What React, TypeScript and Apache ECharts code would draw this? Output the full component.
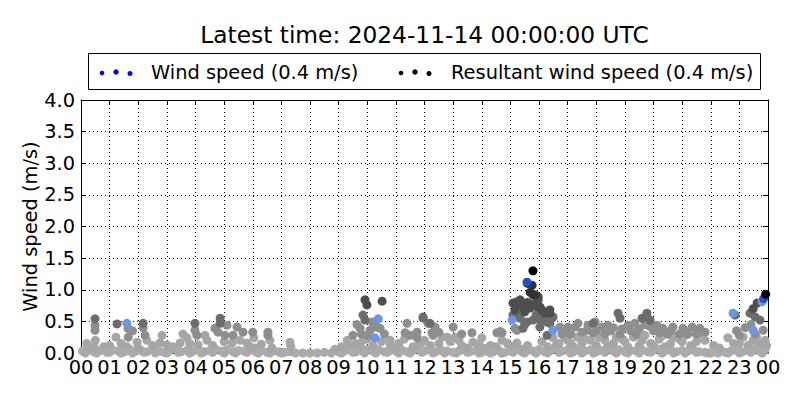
import React, { useEffect, useRef } from "react";
import * as echarts from "echarts";

const titleText = "Latest time: 2024-11-14 00:00:00 UTC";
const legendWind = "Wind speed (0.4 m/s)";
const legendResultant = "Resultant wind speed (0.4 m/s)";
const yAxisName = "Wind speed (m/s)";
const hourLabels = ["00","01","02","03","04","05","06","07","08","09","10","11","12","13","14","15","16","17","18","19","20","21","22","23","00"];

// near-zero band (hour, m/s)
const bandLow = [
  [0.05,0.03],[0.25,0.05],[0.45,0.02],[0.68,0.04],[0.9,0.01],[1.1,0.05],[1.3,0.03],[1.52,0.02],[1.7,0.06],[1.92,0.03],
  [2.1,0.04],[2.3,0.02],[2.5,0.05],[2.72,0.03],[2.9,0.01],[3.1,0.04],[3.3,0.06],[3.5,0.02],[3.7,0.04],[3.92,0.03],
  [4.1,0.05],[4.3,0.02],[4.5,0.04],[4.7,0.06],[4.9,0.03],[5.1,0.05],[5.32,0.02],[5.5,0.04],[5.7,0.03],[5.9,0.05],
  [6.1,0.02],[6.3,0.04],[6.5,0.01],[6.7,0.03],[6.9,0.02],[7.1,0.01],[7.3,0.02],[7.5,0],[7.75,0],[8.0,0],[8.25,0],
  [8.5,0.01],[8.75,0],[9.0,0.02],[9.2,0.03],[9.4,0.05],[9.6,0.02],[9.8,0.04],[10.0,0.06],[10.2,0.03],[10.4,0.05],
  [10.6,0.02],[10.8,0.04],[11.0,0.03],[11.2,0.05],[11.4,0.02],[11.6,0.04],[11.8,0.06],[12.0,0.03],[12.2,0.05],
  [12.4,0.02],[12.6,0.04],[12.8,0.03],[13.0,0.01],[13.2,0.03],[13.4,0.05],[13.6,0.02],[13.8,0.04],[14.0,0.01],
  [14.2,0.03],[14.4,0.02],[14.6,0.04],[14.8,0.01],[15.0,0.03],[15.2,0.05],[15.4,0.02],[15.6,0.04],[15.8,0.03],
  [16.0,0.05],[16.2,0.02],[16.4,0.04],[16.6,0.06],[16.8,0.03],[17.0,0.05],[17.2,0.02],[17.4,0.04],[17.6,0.03],
  [17.8,0.05],[18.0,0.02],[18.2,0.04],[18.4,0.06],[18.6,0.03],[18.8,0.05],[19.0,0.02],[19.2,0.04],[19.4,0.03],
  [19.6,0.05],[19.8,0.02],[20.0,0.04],[20.2,0.06],[20.4,0.03],[20.6,0.05],[20.8,0.02],[21.0,0.04],[21.2,0.03],
  [21.4,0.05],[21.6,0.02],[21.8,0.01],[22.0,0],[22.25,0],[22.5,0.01],[22.7,0.03],[22.9,0.05],[23.1,0.02],
  [23.3,0.04],[23.5,0.06],[23.7,0.03],[23.9,0.05],
  [0.15,0.0],[0.55,0.0],[1.0,0.01],[1.4,0.0],[1.8,0.0],[2.2,0.01],[2.6,0.0],[3.0,0.0],[3.4,0.01],[3.8,0.0],
  [4.2,0.0],[4.6,0.01],[5.0,0.0],[5.4,0.0],[5.8,0.01],[6.2,0.0],[6.6,0.0],[7.0,0.0],[9.1,0.0],[9.5,0.01],
  [9.9,0.0],[10.3,0.0],[10.7,0.01],[11.1,0.0],[11.5,0.0],[11.9,0.01],[12.3,0.0],[12.7,0.0],[13.1,0.0],[13.5,0.01],
  [13.9,0.0],[14.3,0.0],[14.7,0.0],[15.1,0.01],[15.5,0.0],[15.9,0.0],[16.3,0.0],[16.7,0.01],[17.1,0.0],[17.5,0.0],
  [17.9,0.0],[18.3,0.01],[18.7,0.0],[19.1,0.0],[19.5,0.0],[19.9,0.01],[20.3,0.0],[20.7,0.0],[21.1,0.0],[21.5,0.01],
  [21.9,0.0],[22.6,0.0],[23.0,0.0],[23.4,0.01],[23.8,0.0]
];

const grayLight = [
  [0.5,0.2],[0.45,0.1],[1.22,0.25],[1.6,0.1],[1.96,0.17],[2.3,0.2],[2.76,0.16],[3.0,0.13],[3.46,0.16],[3.7,0.24],
  [4.09,0.13],[4.4,0.2],[5.28,0.16],[5.55,0.2],[5.8,0.16],[6.04,0.24],[6.08,0.08],[6.6,0.2],[6.67,0.08],[7.3,0.17],
  [7.33,0.1],[8.87,0.06],[9.1,0.1],[9.4,0.13],[9.75,0.1],[9.85,0.2],[10.8,0.2],[10.8,0.13],[10.95,0.08],[11.6,0.1],
  [11.84,0.16],[11.91,0.17],[12.2,0.12],[12.61,0.25],[12.79,0.25],[13.07,0.25],[13.3,0.12],[13.49,0.08],[13.69,0.17],
  [14.0,0.24],[14.04,0.08],[14.3,0.12],[14.71,0.2],[15.23,0.16],[15.41,0.06],[15.6,0.12],[16.49,0.24],[16.3,0.1],
  [16.7,0.15],[17.0,0.2],[17.33,0.25],[17.2,0.1],[17.5,0.15],[17.8,0.2],[18.0,0.12],[18.3,0.2],[18.6,0.15],[18.9,0.22],
  [19.1,0.1],[19.3,0.25],[19.6,0.2],[19.9,0.15],[20.2,0.22],[20.4,0.1],[20.7,0.25],[21.0,0.18],[21.3,0.12],[21.62,0.25],
  [21.8,0.2],[22.1,0.12],[22.6,0.24],[22.8,0.15],[23.13,0.25],[23.3,0.12],[23.48,0.2],[23.7,0.15],[23.9,0.2],
  [2.83,0.28],[4.33,0.28],[3.56,0.3],[1.0,0.12],[0.2,0.15],
  [0.3,0.08],[0.8,0.1],[1.4,0.15],[2.0,0.08],[2.5,0.12],[3.2,0.1],[3.8,0.15],[4.6,0.12],[5.0,0.18],[5.9,0.1],
  [6.3,0.14],[9.3,0.2],[9.6,0.15],[10.0,0.22],[10.2,0.12],[10.5,0.18],[11.1,0.15],[11.3,0.22],[12.0,0.2],[12.5,0.15],
  [12.9,0.18],[13.2,0.2],[13.9,0.14],[14.5,0.1],[14.9,0.15],[15.1,0.1],[16.1,0.18],[16.6,0.12],[16.9,0.25],[17.1,0.15],
  [17.6,0.22],[18.1,0.25],[18.4,0.1],[18.7,0.25],[19.0,0.18],[19.5,0.12],[19.7,0.28],[20.0,0.12],[20.3,0.27],[20.6,0.15],
  [20.9,0.22],[21.1,0.28],[21.5,0.18],[22.3,0.08],[23.0,0.15],[23.6,0.25],[23.95,0.12]
];

const grayMid = [
  [0.49,0.44],[0.49,0.36],[1.64,0.39],[1.8,0.35],[1.65,0.25],[2.24,0.28],[2.17,0.4],[3.98,0.36],[4.05,0.28],[4.68,0.39],
  [4.79,0.33],[5.03,0.28],[5.1,0.44],[5.31,0.28],[5.45,0.41],[5.66,0.33],[6.0,0.33],[6.53,0.33],[6.53,0.28],[9.5,0.28],
  [9.64,0.45],[9.75,0.39],[10.1,0.36],[10.17,0.49],[10.34,0.41],[10.45,0.39],[11.32,0.32],[11.39,0.47],[11.74,0.33],
  [11.74,0.24],[12.26,0.32],[12.3,0.28],[12.37,0.41],[12.12,0.47],[13.0,0.41],[13.66,0.32],[14.53,0.32],[14.71,0.32],
  [14.64,0.34],[15.16,0.39],[15.23,0.36],[16.73,0.41],[16.98,0.33],[17.01,0.41],[17.26,0.41],[17.36,0.47],[17.68,0.36],
  [17.71,0.44],[17.89,0.32],[17.96,0.49],[18.2,0.41],[18.41,0.44],[18.5,0.35],[18.83,0.3],[19.11,0.44],[19.35,0.47],
  [19.2,0.35],[19.5,0.38],[19.88,0.42],[20.12,0.44],[20.33,0.39],[20.5,0.3],[20.68,0.41],[21.03,0.39],[21.2,0.3],
  [21.35,0.41],[21.62,0.39],[21.8,0.33],[22.9,0.35],[23.0,0.28],[23.55,0.3],[23.83,0.36],
  [9.8,0.3],[10.0,0.28],[10.6,0.3],[11.5,0.28],[12.5,0.33],[13.3,0.3],[16.8,0.3],[17.1,0.3],[17.5,0.33],[18.0,0.35],
  [18.3,0.3],[18.6,0.4],[18.9,0.38],[19.4,0.3],[19.7,0.45],[20.0,0.35],[20.2,0.32],[20.6,0.35],[20.9,0.3],[21.1,0.35],
  [21.5,0.3],[23.2,0.4],[23.4,0.45]
];

const grayDark = [
  [0.49,0.54],[1.26,0.46],[2.17,0.47],[3.98,0.47],[4.86,0.55],[4.86,0.47],[9.85,0.6],[9.92,0.52],[11.95,0.55],
  [11.95,0.57],[12.19,0.47],[16.38,0.47],[16.45,0.55],[16.28,0.49],[16.49,0.57],[17.89,0.47],[18.76,0.63],[18.83,0.55],
  [19.6,0.55],[19.77,0.63],[19.88,0.52],[22.85,0.6],[23.37,0.63],[23.55,0.57],[23.72,0.52],[15.09,0.6],[15.34,0.55],
  [15.58,0.49],[15.79,0.52],[16.03,0.52],[16.03,0.41],[15.44,0.39],[16.28,0.28],
  [15.9,0.6],[15.2,0.62],[16.15,0.55],[16.3,0.58],[15.5,0.45]
];

const grayDarker = [
  [9.92,0.84],[9.99,0.76],[10.52,0.82],[15.09,0.79],[15.16,0.68],[15.23,0.81],[15.34,0.76],[15.34,0.84],[15.44,0.71],
  [15.69,0.71],[15.93,0.73],[16.03,0.73],[16.1,0.68],[16.21,0.63],[16.38,0.63],[16.38,0.68],[15.97,0.84],[15.97,0.89],
  [23.62,0.79],[23.48,0.7],[15.5,0.65],[15.6,0.8],[15.8,0.78]
];

const grayDarkest = [
  [15.69,0.96],[15.76,1.07],[15.79,0.92],[15.86,0.92],[15.6,1.1]
];

const windLightBlue = [
  [1.6,0.47],[10.38,0.54],[10.27,0.24],[15.06,0.52],[16.49,0.36],[23.48,0.36],[23.79,0.81],[22.78,0.63]
];
const windBlue = [[15.58,1.12],[23.85,0.86]];
const resultantBlack = [[15.79,1.3],[23.92,0.93]];

const FONT = "DejaVu Sans";

export default function App() {
  const ref = useRef<HTMLDivElement>(null);
  useEffect(() => {
    if (!ref.current) return;
    const chart = echarts.init(ref.current, null, { renderer: "svg" });
    const axisCommon = {
      axisLine: { show: true, onZero: false, lineStyle: { color: "#000", width: 1 } },
      axisTick: { show: true, inside: true, length: 5, lineStyle: { color: "#000", width: 1 } },
    };
    const sc = (name: string, data: number[][], color: string, z: number) => ({
      type: "scatter",
      name,
      data,
      symbolSize: 9,
      z,
      clip: true,
      itemStyle: { color, opacity: 1 },
      emphasis: { disabled: true },
      silent: true,
    });
    chart.setOption({
      animation: false,
      backgroundColor: "#fff",
      grid: { left: 81, right: 32, top: 100, bottom: 47, containLabel: false, outerBoundsMode: "none" },
      xAxis: [
        {
          type: "value", min: 0, max: 24, interval: 1, position: "bottom",
          ...axisCommon,
          axisLabel: { color: "#000", fontSize: 19.4, fontFamily: FONT, margin: 5,
            formatter: (v: number) => hourLabels[Math.round(v)] },
          splitLine: { show: true, lineStyle: { color: "#000", type: [1, 3], width: 1 } },
        },
        {
          type: "value", min: 0, max: 24, interval: 1, position: "top",
          ...axisCommon,
          axisLabel: { show: false }, splitLine: { show: false },
        },
      ],
      yAxis: [
        {
          type: "value", min: 0, max: 4, interval: 0.5, position: "left",
          ...axisCommon,
          name: yAxisName, nameLocation: "middle", nameGap: 41, nameMoveOverlap: false,
          nameTextStyle: { color: "#000", fontSize: 19.4, fontFamily: FONT },
          axisLabel: { color: "#000", fontSize: 19.4, fontFamily: FONT, margin: 6,
            formatter: (v: number) => v.toFixed(1) },
          splitLine: { show: true, lineStyle: { color: "#000", type: [1, 3], width: 1 } },
        },
        {
          type: "value", min: 0, max: 4, interval: 0.5, position: "right",
          ...axisCommon,
          axisLabel: { show: false }, splitLine: { show: false },
        },
      ],
      series: [
        sc("band", bandLow, "#ababab", 2),
        sc("light", grayLight, "#a6a6a6", 3),
        sc("mid", grayMid, "#8e8e8e", 4),
        sc("dark", grayDark, "#6c6c6c", 5),
        sc("darker", grayDarker, "#4e4e4e", 6),
        sc("darkest", grayDarkest, "#333333", 7),
        sc(legendWind, windLightBlue, "#6a96e8", 8),
        sc(legendWind, windBlue, "#1f4fd0", 9),
        sc(legendResultant, resultantBlack, "#000000", 10),
      ],
      graphic: [
        {
          type: "text", x: 424.5, y: 34,
          style: { text: titleText, fill: "#000", font: `23.3px "${FONT}"`, align: "center", verticalAlign: "middle" },
        },
        {
          type: "group",
          children: [
            { type: "rect", shape: { x: 88.5, y: 53.5, width: 672, height: 36 },
              style: { fill: "#fff", stroke: "#000", lineWidth: 1 } },
            { type: "circle", shape: { cx: 102, cy: 73, r: 2.3 }, style: { fill: "#0000ff" } },
            { type: "circle", shape: { cx: 116, cy: 72, r: 2.7 }, style: { fill: "#0000ff" } },
            { type: "circle", shape: { cx: 130, cy: 73.5, r: 2.5 }, style: { fill: "#0000ff" } },
            { type: "text", x: 151, y: 72, style: { text: legendWind, fill: "#000", font: `19.4px "${FONT}"`, verticalAlign: "middle" } },
            { type: "circle", shape: { cx: 401, cy: 73, r: 2.3 }, style: { fill: "#000" } },
            { type: "circle", shape: { cx: 415, cy: 72, r: 2.7 }, style: { fill: "#000" } },
            { type: "circle", shape: { cx: 429, cy: 73.5, r: 2.5 }, style: { fill: "#000" } },
            { type: "text", x: 451, y: 72, style: { text: legendResultant, fill: "#000", font: `19.4px "${FONT}"`, verticalAlign: "middle" } },
          ],
        },
      ],
    });
    return () => chart.dispose();
  }, []);
  return (
    <div style={{ position: "fixed", left: 0, top: 0, width: 800, height: 400, background: "#fff" }}>
      <div ref={ref} style={{ width: 800, height: 400 }} />
    </div>
  );
}
